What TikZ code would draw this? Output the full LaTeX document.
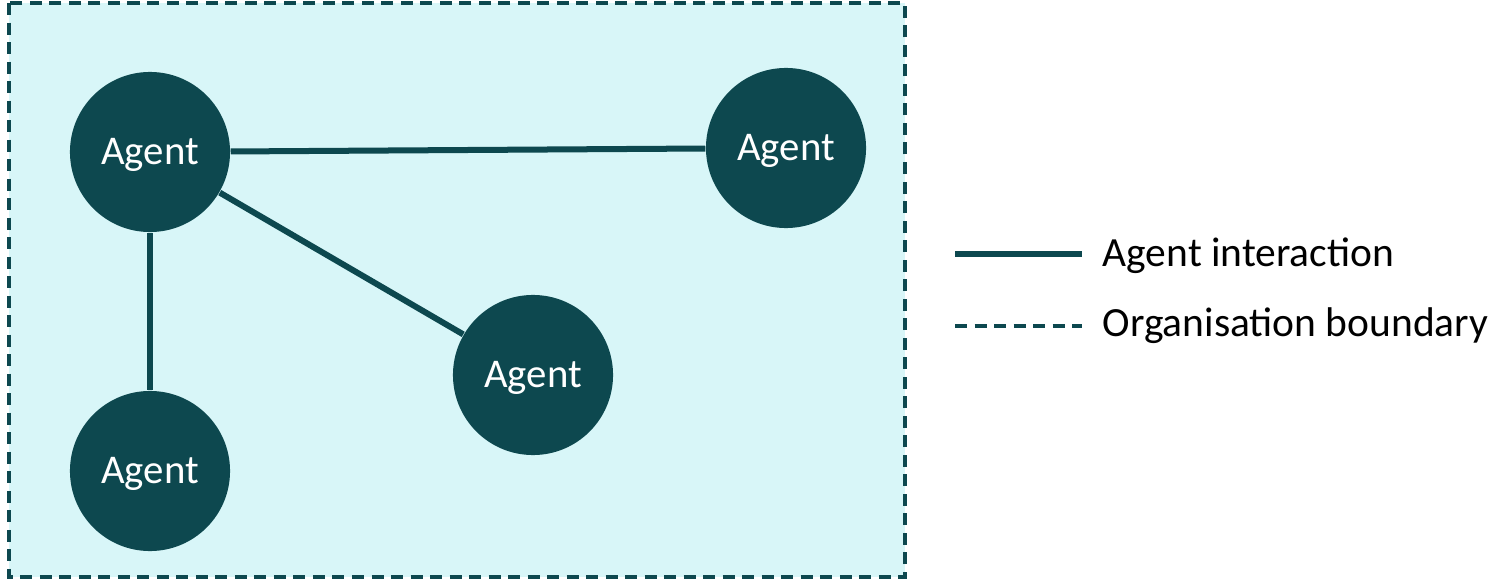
\documentclass[tikz,border=0pt]{standalone}
\usepackage{fontspec}
\setmainfont{Carlito}
\definecolor{agentteal}{RGB}{13,72,79}
\definecolor{orgfill}{RGB}{216,246,248}

\tikzset{
  agent/.style={circle, fill=agentteal, text=white, minimum size=1.6cm, inner sep=0pt,
    text height=1.5ex, text depth=0pt, font=\fontsize{11.6}{14}\selectfont},
  link/.style={draw=agentteal, line width=0.06cm},
  orgline/.style={draw=agentteal, line width=0.04cm, dash pattern=on 0.12cm off 0.075cm},
  keytext/.style={anchor=base west, inner sep=0pt, font=\fontsize{11.8}{14}\selectfont}
}

\begin{document}
\begin{tikzpicture}[x=0.01cm, y=-0.01cm]
\useasboundingbox (0,0) rectangle (1500,582);
% organisation boundary
\path[orgline, fill=orgfill] (9,3) rectangle (905,577);
% agents
\node[agent] (a1) at (150,152) {Agent};
\node[agent] (a2) at (786,148) {Agent};
\node[agent] (a3) at (533,375) {Agent};
\node[agent] (a4) at (150,471) {Agent};
\path[link]
(a1) edge (a2)
     edge (a3)
     edge (a4);
% key
\coordinate (k1a) at (955,254);
\coordinate (k1b) at (1082,254);
\coordinate (k2a) at (955,326);
\coordinate (k2b) at (1082,326);
\draw[link] (k1a) -- (k1b);
\draw[orgline, line width=0.035cm] (k2a) -- (k2b);
\node[keytext] (t1) at (1102,266) {Agent interaction};
\node[keytext] (t2) at (1102,337) {Organisation boundary};
\end{tikzpicture}
\end{document}
